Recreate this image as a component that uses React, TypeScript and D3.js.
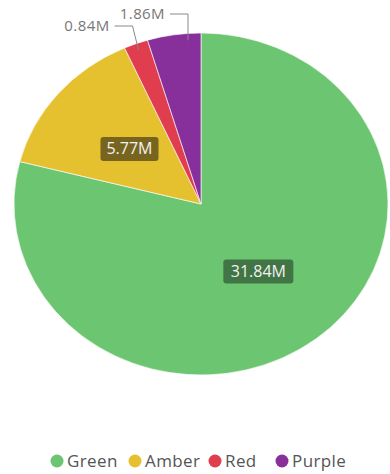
import React from "react";
import * as d3 from "d3";

const categories = ["Green", "Amber", "Red", "Purple"];
const values = [31.84, 5.77, 0.84, 1.86];
const colors = ["#6cc570", "#e5c02f", "#e03e4e", "#87309b"];
const labels = ["31.84M", "5.77M", "0.84M", "1.86M"];

const W = 390, H = 474;
const cx = 201, cy = 204, ry = 171, sx = 187 / 171;

export default function App() {
  const pie = d3.pie<number>().sort(null).value((d) => d)(values);
  const arc = d3.arc<d3.PieArcDatum<number>>().innerRadius(0).outerRadius(ry);
  const font = "'Open Sans', 'Noto Sans', sans-serif";

  const inner = (a: d3.PieArcDatum<number>) => {
    const m = (a.startAngle + a.endAngle) / 2;
    return [cx + Math.sin(m) * ry * 0.5 * sx, cy - Math.cos(m) * ry * 0.5];
  };
  const edgeAt = (ang: number, k: number) => [cx + Math.sin(ang) * ry * k * sx, cy - Math.cos(ang) * ry * k];

  const legendX = [57, 135, 215, 282];

  return (
    <svg width={W} height={H} style={{ position: "absolute", left: 0, top: 0, background: "#fff" }}>
      <g transform={`translate(${cx},${cy}) scale(${sx},1)`}>
        {pie.map((a, i) => (
          <path key={i} d={arc(a) as string} fill={colors[i]} stroke="#fff" strokeWidth={0.6} />
        ))}
      </g>
      {[0, 1].map((i) => {
        const [x, y] = inner(pie[i]);
        const w = i === 0 ? 70 : 58;
        return (
          <g key={i}>
            <rect x={x - w / 2} y={y - 12} width={w} height={24} rx={3}
              fill={i === 0 ? "#3f6e41" : "#6e5d1e"} opacity={0.92} />
            <text x={x} y={y + 5.5} textAnchor="middle" fontSize={16} fill="#f2f2f2" fontFamily={font}>
              {labels[i]}
            </text>
          </g>
        );
      })}
      {[2, 3].map((i) => {
        const a = pie[i];
        const ang = i === 2 ? (a.startAngle + a.endAngle) / 2 : a.startAngle + (a.endAngle - a.startAngle) * 0.75;
        const [x0, y0] = edgeAt(ang, 0.96);
        const [x1, y1] = i === 2 ? [x0 - 6, 26] : [x0, 14];
        const x2 = x1 - 18;
        return (
          <g key={i}>
            <polyline points={`${x0},${y0} ${x1},${y1} ${x2},${y1}`} fill="none" stroke="#888" strokeWidth={1} />
            <text x={x2 - 5} y={y1 + 5} textAnchor="end" fontSize={15} letterSpacing={0.4} fill="#777" fontFamily={font}>
              {labels[i]}
            </text>
          </g>
        );
      })}
      {categories.map((c, i) => (
        <g key={c}>
          <circle cx={legendX[i]} cy={461} r={6.5} fill={colors[i]} />
          <text x={legendX[i] + 10} y={467} fontSize={17} letterSpacing={0.4} fill="#555" fontFamily={font}>{c}</text>
        </g>
      ))}
    </svg>
  );
}
